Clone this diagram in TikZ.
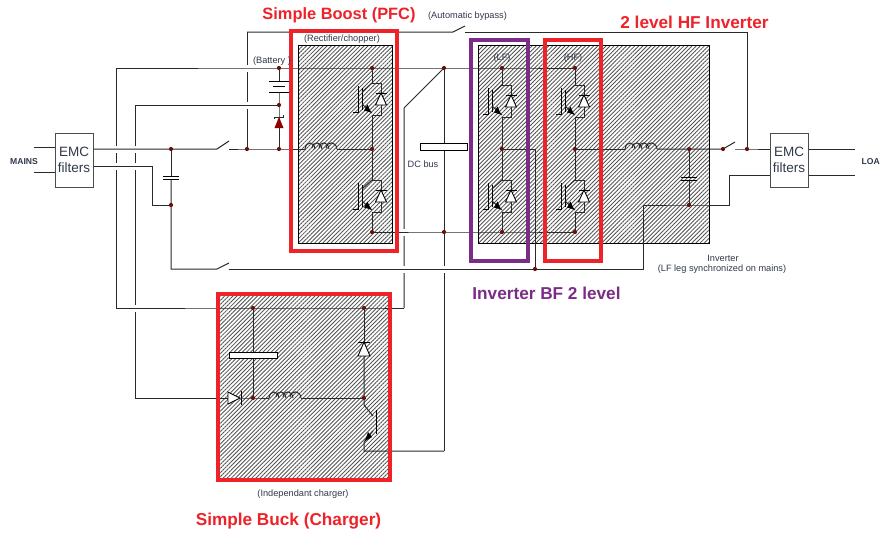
\documentclass[tikz,border=0pt]{standalone}
\usepackage{fontspec}
\setmainfont{Liberation Sans}
\usetikzlibrary{patterns.meta}
\definecolor{wirec}{HTML}{2A2A2A}
\definecolor{redc}{HTML}{EE2229}
\definecolor{purc}{HTML}{7B2C86}
\definecolor{labc}{HTML}{30384A}
\definecolor{dotc}{HTML}{6A1010}
\tikzset{
  hatchbox/.style={draw=black,line width=.9pt,pattern={Lines[angle=45,distance=2.9pt,line width=.85pt]},pattern color=black!68},
  wire/.style={draw=wirec,line width=1pt},
  frame/.style={draw=redc,line width=4pt},
  purframe/.style={draw=purc,line width=4pt},
  jn/.style={circle,fill=dotc,inner sep=0pt,minimum size=4.2pt},
  emc/.style={draw=black!70,line width=1pt,fill=white,minimum width=38pt,minimum height=54pt,inner sep=0pt,align=center,font=\fontsize{13.5}{16.5}\selectfont,text=labc},
  lab/.style={font=\fontsize{9.2}{11}\selectfont,text=labc,inner sep=0pt,align=center},
  smallb/.style={lab,font=\bfseries\fontsize{8.6}{10}\selectfont},
  title/.style={font=\bfseries\fontsize{16.4}{18}\selectfont,text=redc,inner sep=0pt},
  titlewide/.style={title,font=\bfseries\fontsize{17.2}{19}\selectfont},
  plate/.style={draw=black,line width=1pt},
  diodefill/.style={draw=black,line width=.9pt,fill=white}
}
% IGBT leg: #1 = x of the leg, #2 = y of the top bend
\newcommand\igbt[2]{%
  \begin{scope}[shift={(#1,#2)}]
    \draw[wire] (0,0)--(9,0)--(9,32)--(0,32);
    \draw[diodefill] (9,10)--(3.5,22)--(14.5,22)--cycle;
    \draw[line width=1pt] (3.5,10)--(14.5,10);
    \draw[line width=1pt] (-14,3)--(-14,29)--(-19,29);
    \draw[line width=1pt] (-10,5)--(-10,27);
    \draw[wire] (-10,9)--(0,0);
    \draw[wire] (-10,21)--(0,30);
    \fill (-1,29.5)--(-8,27.5)--(-4.5,21.5)--cycle;
  \end{scope}}
% inductor of four humps, starting at (#1,#2)
\newcommand\coil[2]{%
  \begin{scope}[shift={(#1,#2)}]
    \draw[wire] (0,0) .. controls (1,-8) and (9,-8) .. (10,0);
    \draw[wire] (7,-1) .. controls (8,-8) and (16,-8) .. (17,0);
    \draw[wire] (14,-1) .. controls (15,-8) and (23,-8) .. (24,0);
    \draw[wire] (21,-1) .. controls (22,-8) and (31,-8) .. (32,0);
  \end{scope}}
% small break in a wire that is crossed
\newcommand\hop[2]{\fill[white] (#1-1.5,#2-3.5) rectangle (#1+1.5,#2+3.5);}
\begin{document}
\begin{tikzpicture}[x=1pt,y=-1pt]
\useasboundingbox (0,0) rectangle (880,533);
\fill[white] (0,0) rectangle (880,533);

% hatched areas
\path[hatchbox] (298,45) rectangle (392,243);
\path[hatchbox] (478,45) rectangle (709,243);
\path[hatchbox] (218,295) rectangle (388,479);

% named points
\foreach \n/\x/\y in {
  m1/34/147, m2/34/172, m3/855/149, m4/855/175,
  sw1a/217/149, sw1b/229/149, sw1c/229/141,
  sw2a/217/269, sw2b/229/269, sw2c/229/263,
  sw3a/453/32, sw3b/465/32, sw3c/465/26,
  sw4a/723/149, sw4b/735/149, sw4c/735/142,
  q1/152/166, q2/152/205, t1/116/68, t2/116/308, u1/135/105, u2/135/398,
  v1/404/308, v2/404/108, w1/444/451, w2/364/451, y1/171/269, y2/643/269, y3/643/205,
  z1/729/205, z2/729/175, e1/247/32, e2/747/32}
  {\coordinate (\n) at (\x,\y);}
\foreach \n/\x/\y in {
  c1/171/149, c2/171/205, b1/247/149, b2/279/149, b3/279/105, b4/279/68,
  r1/372/68, r2/372/149, r3/372/232, d1/444/68, d2/444/232,
  l1/502/68, l2/502/149, l3/502/232, h1/575/68, h2/575/149, h3/575/232,
  s1/535/269, o1/689/149, o2/689/205, o3/747/149, o4/723/149,
  k1/253/308, k2/364/308, k3/253/398, k4/364/398}
  {\coordinate (\n) at (\x,\y);}

% EMC filters
\node[emc] (emcl) at (74,160) {EMC\\filters};
\node[emc] (emcr) at (789,160) {EMC\\filters};

% long crossing verticals, with their breaks
\draw[wire] (t1)--(t2);
\draw[wire] (u1)--(u2);
\draw[wire] (e1)--(b1);
\draw[wire] (v1)--(v2)--(d1);
\draw[wire] (d1)--(w1);
\foreach \x/\y in {116/149,116/166,135/149,135/166,135/308,247/68,247/105,404/232,404/269,444/269}
  {\hop{\x}{\y}}

% mains side
\draw[wire] (m1)--(m1-|emcl.west);
\draw[wire] (m2)--(m2-|emcl.west);
\draw[wire] (emcl.east|-c1)--(c1)--(sw1a)--(sw1c);
\draw[wire] (emcl.east|-q1)--(q1)--(q2)--(c2);
\draw[wire] (sw1b)--(b1)--(b2)--(305,149);
\draw[wire] (337,149)--(r2);
\coil{305}{149}
\draw[wire] (c1)--(171,176);
\draw[wire] (171,179)--(c2)--(y1)--(sw2a)--(sw2c);
\draw[plate] (163,176)--(179,176);
\draw[plate] (163,179)--(179,179);
\draw[wire] (sw2b)--(y2)--(y3)--(o2)--(z1)--(z2)--(emcr.west|-z2);

% bypass
\draw[wire] (e1)--(sw3a)--(sw3c);
\draw[wire] (sw3b)--(e2)--(o3);

% buses
\draw[wire] (t1)--(b4)--(r1)--(d1)--(l1)--(h1);
\draw[wire] (r3)--(d2)--(l3)--(h3);
\draw[wire] (u1)--(b3);

% battery and diode
\draw[wire] (b4)--(279,81);
\draw[plate] (269,81)--(289,81);
\draw[plate] (273,86)--(285,86);
\draw[plate] (269,92)--(289,92);
\draw[wire] (279,92)--(b3)--(b2);
\fill[red!50!black!90!red] (279,117)--(274.5,128)--(283.5,128)--cycle;
\draw[line width=.9pt,draw=wirec] (274.5,119)--(274.5,117)--(283.5,117)--(283.5,114.5);

% switching legs
\draw[wire] (r1)--(372,83); \draw[wire] (372,115)--(372,180); \draw[wire] (372,212)--(r3);
\draw[wire] (l1)--(502,85); \draw[wire] (502,117)--(502,180); \draw[wire] (502,212)--(l3);
\draw[wire] (h1)--(575,85); \draw[wire] (575,117)--(575,180); \draw[wire] (575,212)--(h3);
\igbt{372}{83}\igbt{372}{180}
\igbt{502}{85}\igbt{502}{180}
\igbt{575}{85}\igbt{575}{180}
\draw[wire] (l2)--(535,149)--(s1);

% output side
\draw[wire] (h2)--(625,149);
\coil{625}{149}
\draw[wire] (657,149)--(o1)--(o4)--(sw4c);
\draw[wire] (sw4b)--(o3)--(emcr.west|-o3);
\draw[wire] (o1)--(689,177);
\draw[wire] (689,180)--(o2);
\draw[plate] (681,177)--(697,177);
\draw[plate] (681,180)--(697,180);
\draw[wire] (emcr.east|-m3)--(m3);
\draw[wire] (emcr.east|-m4)--(m4);

% DC bus capacitor
\draw[diodefill] (420,143.5) rectangle (467,150);

% charger
\draw[wire] (t2)--(k1)--(k2)--(v1);
\draw[wire] (k1)--(253,352);
\draw[wire] (253,358)--(k3);
\draw[diodefill] (229,352) rectangle (277,358);
\draw[wire] (u2)--(228,398);
\draw[diodefill] (240,398)--(228,392)--(228,404)--cycle;
\draw[plate] (241,391)--(241,405);
\draw[wire] (241,398)--(k3)--(269,398);
\coil{269}{398}
\draw[wire] (301,398)--(k4);
\draw[wire] (k2)--(364,342);
\draw[diodefill] (364,342)--(358,356)--(370,356)--cycle;
\draw[plate] (358,342)--(370,342);
\draw[wire] (364,356)--(k4)--(364,405)--(373,416);
\draw[plate] (376,410)--(376,434);
\draw[wire] (373,431)--(364,442)--(w2)--(w1);
\fill (365,441)--(372,437)--(368,432)--cycle;

% junction dots
\foreach \n in {c1,c2,b1,b2,b3,b4,r1,r2,r3,d1,d2,l1,l2,l3,h1,h2,h3,s1,o1,o2,o3,o4,k1,k2,k3,k4}
  {\fill[dotc] (\n) circle[radius=2.1pt];}

% frames
\draw[frame] (291,31) rectangle (397,251);
\draw[frame] (545,40) rectangle (601,261);
\draw[frame] (217.5,293.5) rectangle (390,480);
\draw[purframe] (471,40) rectangle (528,261);

% labels
\node[title] (tboost) at (339,15) {Simple Boost (PFC)};
\node[titlewide] (thf) at (694.5,22) {2 level HF Inverter};
\node[titlewide,text=purc] (tbf) at (546.5,293) {Inverter BF 2 level};
\node[titlewide] (tbuck) at (288.5,521) {Simple Buck (Charger)};
\node[lab] (lbyp) at (467.5,16) {(Automatic bypass)};
\node[lab] (lrec) at (342,39.5) {(Rectifier/chopper)};
\node[lab] (lbat) at (272,61) {(Battery )};
\node[lab] (llf) at (502,58.5) {(LF)};
\node[lab] (lhf) at (573,58.5) {(HF)};
\node[lab] (ldc) at (423,164) {DC bus};
\node[lab] (linv) at (723,258) {Inverter};
\node[lab] (lleg) at (722,269) {(LF leg synchronized on mains)};
\node[lab] (lchg) at (303,494) {(Independant charger)};
\node[smallb] (lmains) at (24,161.5) {MAINS};
\node[smallb,anchor=east] (lload) at (880,161.5) {LOA};
\end{tikzpicture}
\end{document}
